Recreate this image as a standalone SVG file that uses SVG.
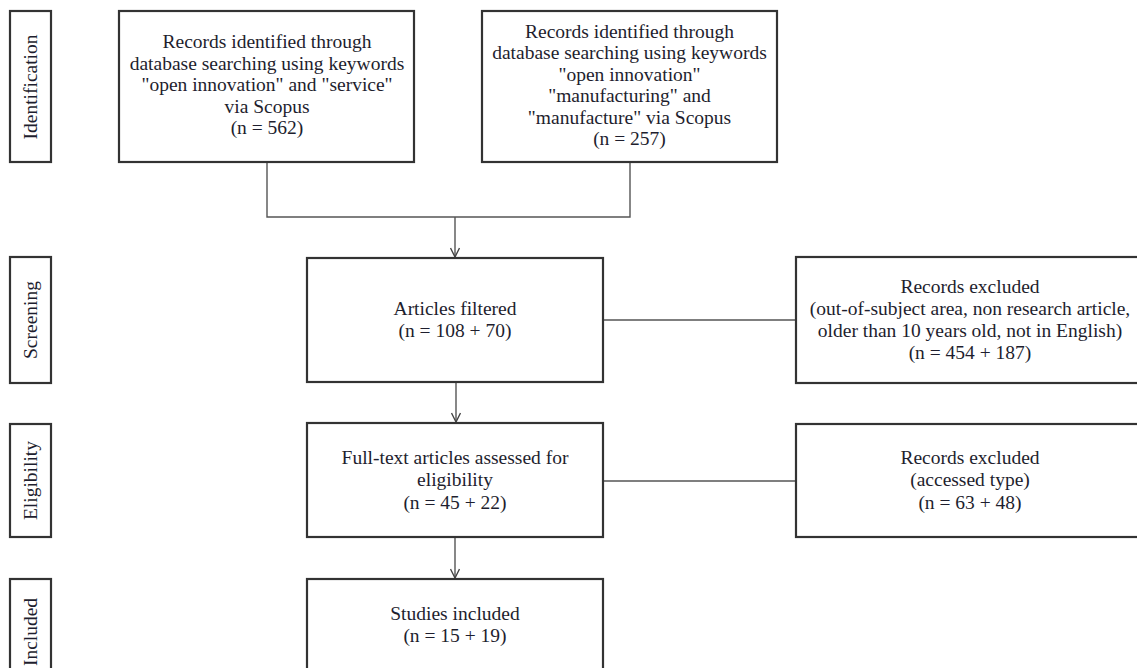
<svg xmlns="http://www.w3.org/2000/svg" width="1137" height="668" viewBox="0 0 1137 668">
<defs>
<style>
.box{fill:#fff;stroke:#333;stroke-width:2.2}
.lbl{fill:#fff;stroke:#333;stroke-width:2.2}
.t{font-family:"Liberation Serif","Times New Roman",serif;font-size:19.5px;fill:#1e1e2e;text-anchor:middle}
.c{fill:none;stroke:#555;stroke-width:1.4}
</style>
<marker id="arr" markerWidth="12" markerHeight="10" refX="10" refY="5" orient="auto" markerUnits="userSpaceOnUse">
<path d="M1,0.5 L10,5 L1,9.5" fill="none" stroke="#444" stroke-width="1.4"/>
</marker>
</defs>
<rect width="1137" height="668" fill="#fff"/>

<g id="stage-identification">
<rect class="lbl" x="10" y="11" width="41" height="151"/>
<text class="t" transform="translate(37,87) rotate(-90)">Identification</text>
</g>
<g id="stage-screening">
<rect class="lbl" x="10" y="257" width="41" height="126"/>
<text class="t" transform="translate(37,320) rotate(-90)">Screening</text>
</g>
<g id="stage-eligibility">
<rect class="lbl" x="10" y="424" width="41" height="113"/>
<text class="t" transform="translate(37,480.5) rotate(-90)">Eligibility</text>
</g>
<g id="stage-included">
<rect class="lbl" x="10" y="579" width="41" height="120"/>
<text class="t" transform="translate(37,632) rotate(-90)">Included</text>
</g>

<g id="connectors">
<polyline class="c" points="267,162 267,217 630,217 630,162"/>
<line class="c" x1="455" y1="217" x2="455" y2="257" marker-end="url(#arr)"/>
<line class="c" x1="603" y1="320" x2="796" y2="320"/>
<line class="c" x1="456" y1="382" x2="456" y2="422" marker-end="url(#arr)"/>
<line class="c" x1="603" y1="481" x2="796" y2="481"/>
<line class="c" x1="455" y1="537" x2="455" y2="578" marker-end="url(#arr)"/>
</g>

<g id="records-service">
<rect class="box" x="119" y="11" width="295" height="151"/>
<text class="t" x="267" y="48">Records identified through</text>
<text class="t" x="267" y="69.5">database searching using keywords</text>
<text class="t" x="267" y="91">"open innovation" and "service"</text>
<text class="t" x="267" y="112.5">via Scopus</text>
<text class="t" x="267" y="134">(n = 562)</text>
</g>

<g id="records-manufacturing">
<rect class="box" x="482" y="11" width="295" height="151"/>
<text class="t" x="629.5" y="37.5">Records identified through</text>
<text class="t" x="629.5" y="59">database searching using keywords</text>
<text class="t" x="629.5" y="80.5">"open innovation"</text>
<text class="t" x="629.5" y="102">"manufacturing" and</text>
<text class="t" x="629.5" y="123.5">"manufacture" via Scopus</text>
<text class="t" x="629.5" y="145">(n = 257)</text>
</g>

<g id="articles-filtered">
<rect class="box" x="307" y="258" width="296" height="124"/>
<text class="t" x="455" y="314.5">Articles filtered</text>
<text class="t" x="455" y="337">(n = 108 + 70)</text>
</g>

<g id="excluded-1">
<rect class="box" x="796" y="257" width="350" height="126"/>
<text class="t" x="970" y="293">Records excluded</text>
<text class="t" x="970" y="315">(out-of-subject area, non research article,</text>
<text class="t" x="970" y="337">older than 10 years old, not in English)</text>
<text class="t" x="970" y="359">(n = 454 + 187)</text>
</g>

<g id="full-text">
<rect class="box" x="307" y="423" width="296" height="114"/>
<text class="t" x="455" y="464">Full-text articles assessed for</text>
<text class="t" x="455" y="486">eligibility</text>
<text class="t" x="455" y="508.5">(n = 45 + 22)</text>
</g>

<g id="excluded-2">
<rect class="box" x="796" y="424" width="350" height="113"/>
<text class="t" x="970" y="464">Records excluded</text>
<text class="t" x="970" y="486">(accessed type)</text>
<text class="t" x="970" y="508.5">(n = 63 + 48)</text>
</g>

<g id="studies-included">
<rect class="box" x="307" y="579" width="296" height="120"/>
<text class="t" x="455" y="620">Studies included</text>
<text class="t" x="455" y="642">(n = 15 + 19)</text>
</g>
</svg>
